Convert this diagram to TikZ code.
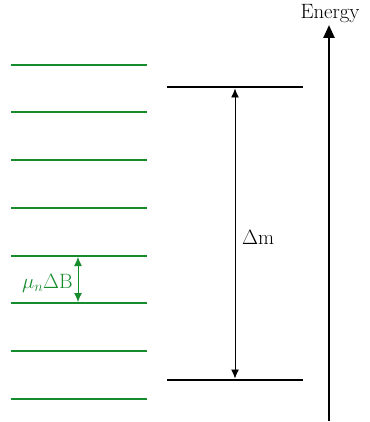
\documentclass[tikz,border=0pt]{standalone}
\usepackage{fix-cm}
\usetikzlibrary{arrows.meta}
\definecolor{lvlgreen}{RGB}{22,140,45}
\begin{document}
\begin{tikzpicture}[x=1pt,y=-1pt,
  greenlevel/.style={draw=lvlgreen,line width=2.2pt},
  blacklevel/.style={draw=black,line width=2.5pt},
  gap/.style={{Latex[length=9pt,width=8pt]}-{Latex[length=9pt,width=8pt]},line width=0.9pt},
  lbl/.style={font=\huge,inner sep=0pt}]
\useasboundingbox (0,0) rectangle (369,422);
% green levels
\foreach \i/\y in {1/65,2/112,3/160,4/208,5/256,6/303,7/351,8/399}{
  \coordinate (gl\i) at (11,\y);
  \coordinate (gr\i) at (147,\y);
  \draw[greenlevel] (gl\i) -- (gr\i);
}
% black levels
\coordinate (bl1) at (167,87);
\coordinate (br1) at (303,87);
\coordinate (bl2) at (167,380);
\coordinate (br2) at (303,380);
\draw[blacklevel] (bl1) -- (br1);
\draw[blacklevel] (bl2) -- (br2);
% delta m arrow
\coordinate (dmt) at (235,88.5);
\coordinate (dmb) at (235,378.5);
\draw[gap] (dmt) -- (dmb);
\node[lbl,anchor=west] (dm) at (242,237) {$\Delta$m};
% mu_n Delta B arrow
\coordinate (mut) at (78,257);
\coordinate (mub) at (78,302);
\draw[gap,draw=lvlgreen,color=lvlgreen] (mut) -- (mub);
\node[lbl,anchor=east,text=lvlgreen] (mu) at (73,283) {$\mu_n\Delta$B};
% energy axis
\coordinate (eb) at (329,421);
\coordinate (et) at (329,25);
\draw[line width=2.5pt,-{Triangle[length=13pt,width=11pt]}] (eb) -- (et);
\node[lbl,anchor=center] (en) at (330,14) {Energy};
\end{tikzpicture}
\end{document}
